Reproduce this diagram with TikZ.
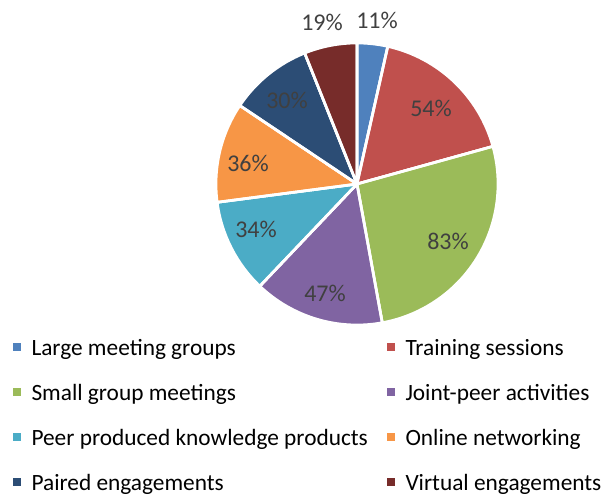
\documentclass[tikz,border=0pt]{standalone}
\usepackage{fontspec}
\setmainfont{Carlito}
\usepackage{tikz}
\definecolor{largeblue}{HTML}{4F81BD}
\definecolor{trainred}{HTML}{C0504D}
\definecolor{smallgreen}{HTML}{9BBB59}
\definecolor{jointpurple}{HTML}{8064A2}
\definecolor{peeraqua}{HTML}{4BACC6}
\definecolor{onlineorange}{HTML}{F79646}
\definecolor{pairednavy}{HTML}{2C4D75}
\definecolor{virtualred}{HTML}{772C2A}
\definecolor{labelgrey}{HTML}{404040}
\tikzset{every picture/.style={line width=0.75pt},
  sector/.style={draw=white, line width=2pt, line join=round},
  pct/.style={text=labelgrey, inner sep=0.75pt, font=\fontsize{18}{21}\selectfont},
  legbox/.style={minimum size=6pt, inner sep=0pt},
  legtext/.style={anchor=base west, inner sep=0pt, font=\fontsize{17.5}{21}\selectfont}}

\begin{document}
\begin{tikzpicture}[x=0.75pt,y=0.75pt,yscale=-1,xscale=1]
\useasboundingbox (0,0) rectangle (604,496);
\coordinate (c) at (357,184);

%Shape: Sector Large meeting groups
\fill [largeblue, sector] (c) -- ++(-90:141) arc [start angle=-90, end angle=-77.39, radius=141] -- cycle ;
%Shape: Sector Training sessions
\fill [trainred, sector] (c) -- ++(-77.39:141) arc [start angle=-77.39, end angle=-15.48, radius=141] -- cycle ;
%Shape: Sector Small group meetings
\fill [smallgreen, sector] (c) -- ++(-15.48:141) arc [start angle=-15.48, end angle=79.68, radius=141] -- cycle ;
%Shape: Sector Joint-peer activities
\fill [jointpurple, sector] (c) -- ++(79.68:141) arc [start angle=79.68, end angle=133.57, radius=141] -- cycle ;
%Shape: Sector Peer produced knowledge products
\fill [peeraqua, sector] (c) -- ++(133.57:141) arc [start angle=133.57, end angle=172.55, radius=141] -- cycle ;
%Shape: Sector Online networking
\fill [onlineorange, sector] (c) -- ++(172.55:141) arc [start angle=172.55, end angle=213.82, radius=141] -- cycle ;
%Shape: Sector Paired engagements
\fill [pairednavy, sector] (c) -- ++(213.82:141) arc [start angle=213.82, end angle=248.22, radius=141] -- cycle ;
%Shape: Sector Virtual engagements
\fill [virtualred, sector] (c) -- ++(248.22:141) arc [start angle=248.22, end angle=270, radius=141] -- cycle ;
\draw [sector] (c) -- ++(-90:141) (c) -- ++(-77.39:141) (c) -- ++(-15.48:141) (c) -- ++(79.68:141) (c) -- ++(133.57:141) (c) -- ++(172.55:141) (c) -- ++(213.82:141) (c) -- ++(248.22:141) ;

% Text Node
\node [pct] (p11) at (377,20) {11\%};
% Text Node
\node [pct] (p54) at (431,108) {54\%};
% Text Node
\node [pct] (p83) at (448,241) {83\%};
% Text Node
\node [pct] (p47) at (325,293) {47\%};
% Text Node
\node [pct] (p34) at (256,229) {34\%};
% Text Node
\node [pct] (p36) at (248,163) {36\%};
% Text Node
\node [pct] (p30) at (287,100) {30\%};
% Text Node
\node [pct] (p19) at (322,22) {19\%};

%Legend
\node [legbox, fill=largeblue] (kLarge) at (16.7,346.5) {};
\node [legtext] (tLarge) at (31,355) {Large meeting groups};
\node [legbox, fill=trainred] (kTrain) at (391,346.5) {};
\node [legtext] (tTrain) at (405,355) {Training sessions};
\node [legbox, fill=smallgreen] (kSmall) at (16.7,392) {};
\node [legtext] (tSmall) at (31,400.5) {Small group meetings};
\node [legbox, fill=jointpurple] (kJoint) at (391,392) {};
\node [legtext] (tJoint) at (405,400.5) {Joint-peer activities};
\node [legbox, fill=peeraqua] (kPeer) at (16.7,437) {};
\node [legtext] (tPeer) at (31,445.5) {Peer produced knowledge products};
\node [legbox, fill=onlineorange] (kOnline) at (391,437) {};
\node [legtext] (tOnline) at (405,445.5) {Online networking};
\node [legbox, fill=pairednavy] (kPaired) at (16.7,482) {};
\node [legtext] (tPaired) at (31,490.5) {Paired engagements};
\node [legbox, fill=virtualred] (kVirtual) at (391,482) {};
\node [legtext] (tVirtual) at (405,490.5) {Virtual engagements};

\end{tikzpicture}
\end{document}
